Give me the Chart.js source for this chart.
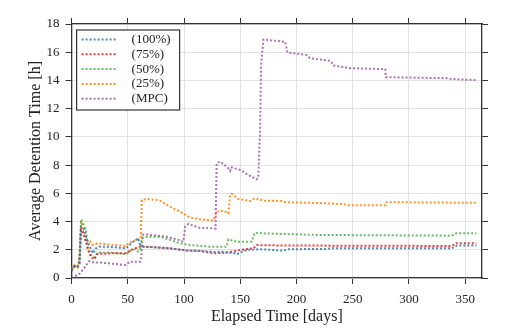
<!DOCTYPE html>
<html>
<head>
<meta charset="utf-8">
<script src="https://cdn.jsdelivr.net/npm/chart.js@4/dist/chart.umd.min.js"></script>
<style>
  body { margin: 0; background: #fff; }
  #chart { display: block; }
</style>
</head>
<body>
<canvas id="chart" width="532" height="329"></canvas>
<script>
// [elapsed day, average detention time in hours]
const run100 = [[0,0.5],[2,0.8],[5,0.75],[7,1.0],[8.5,3.6],[10,3.6],[11.3,3.4],[14.3,2.57],[18.8,1.75],[21.7,2.1],[24.6,2.22],[35,2.2],[48.4,2.1],[53,2.46],[57.3,2.7],[59,2.82],[61,2.34],[64,2.22],[73,2.18],[87.5,2.1],[102,1.95],[114,1.92],[126,1.85],[132,1.87],[145,1.75],[147,1.68],[150,1.8],[156,1.99],[167.6,2.04],[188,1.94],[193,2.04],[227,2.06],[231,2.1],[338,2.1],[343,2.3],[360,2.3]];
const run75 = [[0,0.55],[2,0.8],[5,0.75],[7,1.0],[8.3,3.4],[10,3.3],[12,2.8],[14.5,2.0],[17,1.5],[20.2,1.33],[23,1.7],[35,1.75],[48.4,1.75],[53,1.99],[56.4,2.1],[61,2.22],[64,2.22],[73,2.18],[87.5,2.1],[102.4,1.94],[114,1.92],[126,1.75],[138,1.8],[150,1.99],[161.7,2.1],[164.7,2.34],[167.6,2.32],[200,2.3],[338,2.27],[342,2.46],[360,2.46]];
const run50 = [[0,0.6],[2,0.85],[5,0.8],[7,1.2],[8.4,4.16],[10,3.9],[12.8,3.4],[14.3,2.22],[17.3,1.63],[20.2,1.47],[23,1.8],[35,1.8],[48.4,1.7],[53.5,1.99],[56.4,2.03],[59.3,1.87],[61,2.0],[62.4,2.82],[66.8,2.93],[78.6,2.93],[87.5,2.7],[96.4,2.46],[105,2.34],[123,2.22],[138,2.22],[139.4,2.74],[147,2.57],[160,2.57],[163,3.21],[167.6,3.17],[218,3.05],[338,3.0],[342,3.17],[360,3.17]];
const run25 = [[0,0.69],[2.4,0.92],[5.4,0.76],[7,1.5],[8.4,3.88],[9,4.0],[10,3.17],[12.8,2.57],[15.7,2.7],[18.8,2.34],[23,2.46],[35,2.35],[48.4,2.27],[51,2.5],[53.5,2.57],[58,2.7],[61.5,2.82],[62.4,5.53],[66.8,5.6],[78.6,5.48],[87.5,5.06],[96.4,4.7],[105,4.3],[114,4.16],[126,4.07],[129,4.7],[135,4.77],[139.4,4.59],[141,5.89],[142.4,5.96],[148,5.6],[158.7,5.45],[163,5.65],[170.6,5.48],[187,5.46],[190,5.37],[224,5.3],[242,5.23],[246,5.16],[279,5.16],[280,5.37],[360,5.33]];
const runMPC = [[0,0],[7.5,0.33],[12,0.8],[15.7,1.2],[20,1.1],[26,1.09],[48,0.92],[52,1.16],[61,1.16],[62,1.4],[63,3.05],[65.3,3.1],[84.6,2.93],[95,2.7],[99.4,2.57],[101,3.64],[104,3.83],[114,3.55],[126,3.52],[128,3.5],[129,8.13],[132,8.25],[138,7.9],[141,7.6],[141.5,7.85],[150,7.66],[157,7.3],[164.7,7.0],[166,7.1],[167.6,10.3],[168.5,15.1],[170.6,16.9],[190,16.74],[192,15.98],[209,15.8],[212,15.58],[230,15.4],[233,15.06],[248,14.87],[279,14.8],[279.5,14.23],[333.7,14.16],[338,14.1],[360,14.02]];

const seriesLabels = ['(100%)', '(75%)', '(50%)', '(25%)', '(MPC)'];
const seriesColors = ['rgba(55,126,184,0.9)', 'rgba(228,26,28,0.85)', 'rgba(77,175,74,0.85)', 'rgba(255,127,0,0.85)', 'rgba(152,78,163,0.8)'];
const seriesRuns = [run100, run75, run50, run25, runMPC];

const xMin = 0, xMax = 365;
const xTicks = [0, 50, 100, 150, 200, 250, 300, 350];
const yMin = 0, yMax = 18, yStep = 2;

const serif = 'Liberation Serif';
const ink = '#222';
const frame = '#333';
const dots = [2, 2];

// legend box drawn inside the plot, top-left
const boxLegend = {
    id: 'boxLegend',
    afterDatasetsDraw(chart) {
        const ctx = chart.ctx;
        const area = chart.chartArea;
        const x0 = area.left + 5, y0 = area.top + 6;
        const w = 103, h = 80, rowH = 14.8;
        ctx.save();
        ctx.fillStyle = '#fff';
        ctx.fillRect(x0, y0, w, h);
        ctx.strokeStyle = frame;
        ctx.lineWidth = 1.2;
        ctx.strokeRect(x0, y0, w, h);
        ctx.font = '13px "' + serif + '"';
        ctx.textBaseline = 'middle';
        chart.data.datasets.forEach((ds, i) => {
            const yy = y0 + 9.5 + i * rowH;
            ctx.strokeStyle = ds.borderColor;
            ctx.lineWidth = 2;
            ctx.setLineDash(dots);
            ctx.beginPath();
            ctx.moveTo(x0 + 5, yy);
            ctx.lineTo(x0 + 39, yy);
            ctx.stroke();
            ctx.setLineDash([]);
            ctx.fillStyle = ink;
            ctx.fillText(ds.label, x0 + 55, yy);
        });
        ctx.restore();
    }
};

const tickFont = { family: serif, size: 13 };
const fixedXTicks = s => { s.ticks = xTicks.map(v => ({ value: v })); };

new Chart(document.getElementById('chart'), {
    type: 'line',
    data: {
        datasets: seriesRuns.map((run, i) => ({
            label: seriesLabels[i],
            data: run.map(p => ({ x: p[0], y: p[1] })),
            borderColor: seriesColors[i],
            borderWidth: 2,
            borderDash: dots,
            pointRadius: 0,
            tension: 0,
            fill: false
        }))
    },
    options: {
        responsive: false,
        animation: false,
        layout: { padding: 0 },
        plugins: { legend: { display: false }, tooltip: { enabled: false } },
        scales: {
            x: {
                type: 'linear', min: xMin, max: xMax,
                afterBuildTicks: fixedXTicks,
                ticks: { font: tickFont, color: ink, padding: 8, maxRotation: 0, autoSkip: false },
                grid: { color: '#e2e2e2', tickColor: frame, tickLength: 6 },
                border: { color: frame, width: 1.3 },
                title: { display: true, text: 'Elapsed Time [days]', font: { family: serif, size: 16 }, color: ink, padding: { top: 0, bottom: 2.5 } },
                afterFit(s) { s.height = 51; }
            },
            x2: {
                type: 'linear', position: 'top', min: xMin, max: xMax,
                afterBuildTicks: fixedXTicks,
                ticks: { callback: () => '', autoSkip: false },
                grid: { drawOnChartArea: false, tickColor: frame, tickLength: 6 },
                border: { color: frame, width: 1.3 },
                afterFit(s) { s.height = 24; }
            },
            y: {
                min: yMin, max: yMax,
                ticks: { stepSize: yStep, font: tickFont, color: ink, padding: 6 },
                grid: { color: '#e2e2e2', tickColor: frame, tickLength: 6 },
                border: { color: frame, width: 1.3 },
                title: { display: true, text: 'Average Detention Time [h]', font: { family: serif, size: 16 }, color: ink, padding: { top: 26, bottom: 0 } },
                afterFit(s) { s.width = 71.6; }
            },
            y2: {
                position: 'right', min: yMin, max: yMax,
                ticks: { stepSize: yStep, callback: () => '' },
                grid: { drawOnChartArea: false, tickColor: frame, tickLength: 6 },
                border: { color: frame, width: 1.3 },
                afterFit(s) { s.width = 50; }
            }
        }
    },
    plugins: [boxLegend]
});
</script>
</body>
</html>
